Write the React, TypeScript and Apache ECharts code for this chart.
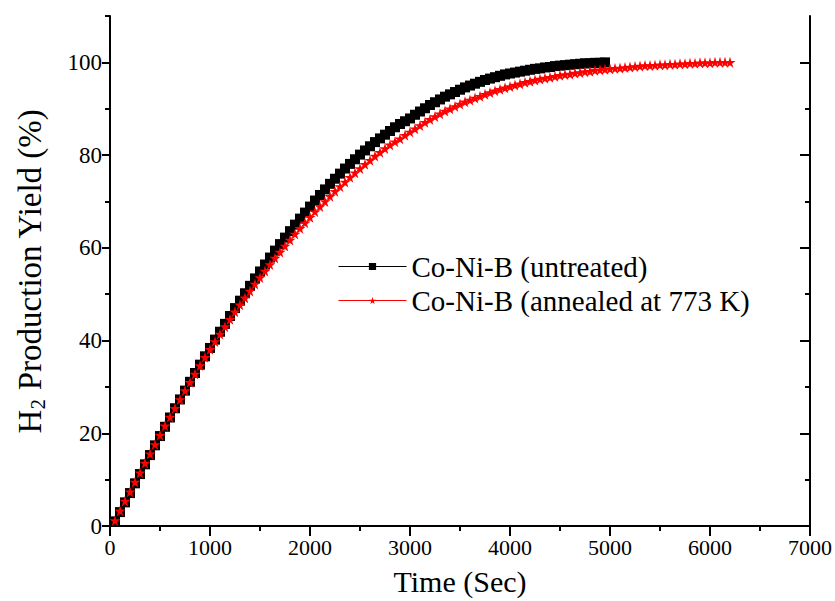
import React, { useEffect, useRef } from "react";
import * as echarts from "echarts";

const xTicks = [0, 1000, 2000, 3000, 4000, 5000, 6000, 7000];
const yTicks = [0, 20, 40, 60, 80, 100];

const seriesNames = ["Co-Ni-B (untreated)", "Co-Ni-B (annealed at 773 K)"];

// [time (s), yield (%)]
const untreated: [number, number][] = [
  [50, 1.0], [100, 3.0], [150, 5.1], [200, 7.1], [250, 9.2], [300, 11.2], [350, 13.3], [400, 15.3],
  [450, 17.4], [500, 19.4], [550, 21.4], [600, 23.4], [650, 25.4], [700, 27.3], [750, 29.2], [800, 31.1],
  [850, 33.0], [900, 34.8], [950, 36.6], [1000, 38.4], [1050, 40.2], [1100, 41.9], [1150, 43.6], [1200, 45.3],
  [1250, 47.0], [1300, 48.6], [1350, 50.2], [1400, 51.8], [1450, 53.4], [1500, 54.9], [1550, 56.4], [1600, 57.9],
  [1650, 59.4], [1700, 60.8], [1750, 62.2], [1800, 63.6], [1850, 65.0], [1900, 66.3], [1950, 67.6], [2000, 68.9],
  [2050, 70.2], [2100, 71.4], [2150, 72.6], [2200, 73.8], [2250, 74.9], [2300, 76.0], [2350, 77.1], [2400, 78.1],
  [2450, 79.1], [2500, 80.1], [2550, 81.0], [2600, 81.9], [2650, 82.8], [2700, 83.6], [2750, 84.4], [2800, 85.2],
  [2850, 86.0], [2900, 86.7], [2950, 87.3], [3000, 87.9], [3050, 88.7], [3100, 89.4], [3150, 90.1], [3200, 90.8],
  [3250, 91.4], [3300, 92.0], [3350, 92.6], [3400, 93.1], [3450, 93.6], [3500, 94.1], [3550, 94.6], [3600, 95.0],
  [3650, 95.4], [3700, 95.8], [3750, 96.2], [3800, 96.5], [3850, 96.8], [3900, 97.1], [3950, 97.4], [4000, 97.6],
  [4050, 97.8], [4100, 98.0], [4150, 98.2], [4200, 98.4], [4250, 98.6], [4300, 98.7], [4350, 98.9], [4400, 99.0],
  [4450, 99.2], [4500, 99.3], [4550, 99.4], [4600, 99.5], [4650, 99.6], [4700, 99.7], [4750, 99.8], [4800, 99.8],
  [4850, 99.9], [4900, 99.9], [4950, 100.0],
];

const annealed: [number, number][] = [
  [50, 1.2], [100, 3.3], [150, 5.4], [200, 7.4], [250, 9.5], [300, 11.5], [350, 13.6], [400, 15.6],
  [450, 17.6], [500, 19.6], [550, 21.6], [600, 23.5], [650, 25.4], [700, 27.3], [750, 29.2], [800, 31.0],
  [850, 32.8], [900, 34.6], [950, 36.4], [1000, 38.1], [1050, 39.8], [1100, 41.4], [1150, 43.0], [1200, 44.6],
  [1250, 46.2], [1300, 47.7], [1350, 49.2], [1400, 50.7], [1450, 52.2], [1500, 53.6], [1550, 55.0], [1600, 56.4],
  [1650, 57.8], [1700, 59.1], [1750, 60.4], [1800, 61.7], [1850, 63.0], [1900, 64.2], [1950, 65.4], [2000, 66.6],
  [2050, 67.8], [2100, 68.9], [2150, 70.0], [2200, 71.1], [2250, 72.2], [2300, 73.2], [2350, 74.2], [2400, 75.2],
  [2450, 76.2], [2500, 77.1], [2550, 78.0], [2600, 78.9], [2650, 79.8], [2700, 80.6], [2750, 81.4], [2800, 82.2],
  [2850, 82.9], [2900, 83.5], [2950, 84.3], [3000, 85.0], [3050, 85.7], [3100, 86.4], [3150, 87.1], [3200, 87.7],
  [3250, 88.3], [3300, 88.9], [3350, 89.5], [3400, 90.0], [3450, 90.5], [3500, 91.0], [3550, 91.5], [3600, 91.9],
  [3650, 92.3], [3700, 92.7], [3750, 93.1], [3800, 93.5], [3850, 93.9], [3900, 94.2], [3950, 94.5], [4000, 94.8],
  [4050, 95.1], [4100, 95.4], [4150, 95.7], [4200, 95.9], [4250, 96.2], [4300, 96.4], [4350, 96.6], [4400, 96.8],
  [4450, 97.0], [4500, 97.2], [4550, 97.4], [4600, 97.5], [4650, 97.7], [4700, 97.8], [4750, 98.0], [4800, 98.1],
  [4850, 98.3], [4900, 98.4], [4950, 98.5], [5000, 98.6], [5050, 98.7], [5100, 98.8], [5150, 98.9], [5200, 99.0],
  [5250, 99.1], [5300, 99.2], [5350, 99.3], [5400, 99.3], [5450, 99.4], [5500, 99.5], [5550, 99.5], [5600, 99.6],
  [5650, 99.6], [5700, 99.7], [5750, 99.7], [5800, 99.8], [5850, 99.8], [5900, 99.9], [5950, 99.9], [6000, 99.9],
  [6050, 100.0], [6100, 100.0], [6150, 100.0], [6200, 100.0],
];

const STAR =
  "path://M50,0 L61,35 L98,35 L68,57 L79,91 L50,70 L21,91 L32,57 L2,35 L39,35 Z";
const FONT = "Liberation Serif";

export default function App() {
  const ref = useRef<HTMLDivElement>(null);

  useEffect(() => {
    document.body.style.margin = "0";
    if (!ref.current) return;
    const chart = echarts.init(ref.current, undefined, { renderer: "svg" });
    const axisLine = { show: true, lineStyle: { color: "#000", width: 2 } };
    const common = {
      type: "value" as const,
      splitLine: { show: false },
    };
    chart.setOption({
      animation: false,
      backgroundColor: "#fff",
      textStyle: { fontFamily: FONT },
      grid: { left: 110, right: 25, top: 16, bottom: 70 },
      legend: {
        orient: "vertical",
        left: 333,
        top: 247,
        itemWidth: 68,
        itemHeight: 9,
        itemGap: 5,
        data: seriesNames,
        lineStyle: { width: 1 },
        textStyle: { fontFamily: FONT, fontSize: 29, color: "#000" },
      },
      xAxis: [
        {
          ...common,
          min: xTicks[0],
          max: xTicks[xTicks.length - 1],
          interval: 1000,
          position: "bottom",
          axisLine,
          axisTick: { show: true, length: 8, lineStyle: { width: 2, color: "#000" } },
          minorTick: { show: true, splitNumber: 2, length: 5, lineStyle: { width: 2, color: "#000" } },
          axisLabel: {
            fontFamily: FONT,
            fontSize: 22,
            color: "#000",
            margin: 10,
            formatter: (v: number) => String(v),
          },
          name: "Time (Sec)",
          nameLocation: "middle",
          nameGap: 40,
          nameTextStyle: { fontFamily: FONT, fontSize: 30, color: "#000" },
        },
        {
          ...common,
          min: xTicks[0],
          max: xTicks[xTicks.length - 1],
          interval: 1000,
          position: "top",
          axisLine,
          axisTick: { show: true, inside: true, length: 10, lineStyle: { width: 2, color: "#000" } },
          minorTick: { show: true, splitNumber: 2, length: 5, lineStyle: { width: 2, color: "#000" } },
          axisLabel: { show: false },
        },
      ],
      yAxis: [
        {
          ...common,
          min: 0,
          max: 110,
          interval: 10,
          position: "left",
          axisLine,
          axisTick: {
            show: true,
            length: 8,
            customValues: yTicks,
            lineStyle: { width: 2, color: "#000" },
          },
          axisLabel: {
            fontFamily: FONT,
            fontSize: 23,
            color: "#000",
            margin: 8,
            customValues: yTicks,
            formatter: (v: number) => String(v),
          },
          name: "{h|H}{s|2}{h| Production Yield (%)}",
          nameLocation: "middle",
          nameGap: 62,
          nameRotate: 90,
          nameTextStyle: {
            fontFamily: FONT,
            fontSize: 33,
            color: "#000",
            rich: {
              h: { fontFamily: FONT, fontSize: 33, color: "#000", lineHeight: 36 },
              s: {
                fontFamily: FONT,
                fontSize: 21,
                color: "#000",
                lineHeight: 36,
                verticalAlign: "bottom",
              },
            },
          },
        },
        {
          ...common,
          min: 0,
          max: 110,
          interval: 10,
          position: "left",
          axisLine: { show: false },
          axisTick: { show: true, length: 5, lineStyle: { width: 2, color: "#000" } },
          axisLabel: { show: false },
        },
        {
          ...common,
          min: 0,
          max: 110,
          interval: 10,
          position: "right",
          axisLine,
          axisTick: {
            show: true,
            inside: true,
            length: 10,
            customValues: yTicks,
            lineStyle: { width: 2, color: "#000" },
          },
          axisLabel: { show: false },
        },
        {
          ...common,
          min: 0,
          max: 110,
          interval: 10,
          position: "right",
          axisLine: { show: false },
          axisTick: {
            show: true,
            inside: true,
            length: 5,
            customValues: [10, 30, 50, 70, 90],
            lineStyle: { width: 2, color: "#000" },
          },
          axisLabel: { show: false },
        },
      ],
      series: [
        {
          name: seriesNames[0],
          type: "line",
          xAxisIndex: 0,
          yAxisIndex: 0,
          data: untreated,
          symbol: "rect",
          symbolSize: 10,
          showAllSymbol: true,
          itemStyle: { color: "#000" },
          lineStyle: { color: "#000", width: 1 },
        },
        {
          name: seriesNames[1],
          type: "line",
          xAxisIndex: 0,
          yAxisIndex: 0,
          data: annealed,
          symbol: STAR,
          symbolSize: 11,
          showAllSymbol: true,
          itemStyle: { color: "#ff0000" },
          lineStyle: { color: "#ff0000", width: 1 },
        },
      ],
    });
    return () => chart.dispose();
  }, []);

  return <div ref={ref} style={{ width: 835, height: 601 }} />;
}
